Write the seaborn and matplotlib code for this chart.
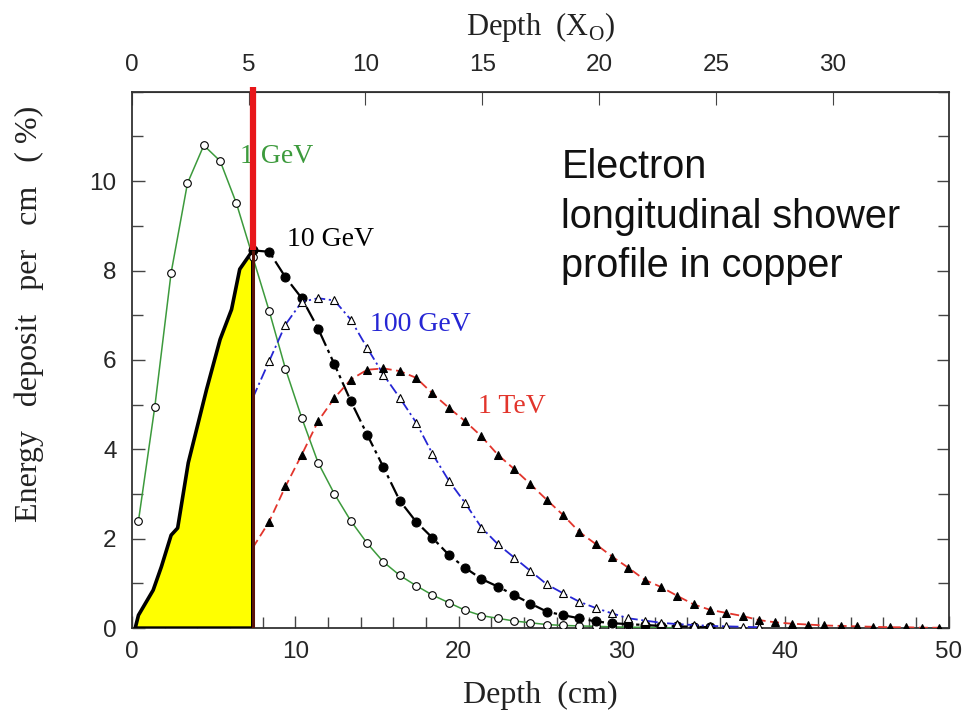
import matplotlib
matplotlib.use("Agg")
import matplotlib.pyplot as plt
import seaborn as sns

# --- Data: depth in cm, energy deposit per cm in % ---
X0_CU_CM = 1.43        # radiation length of copper (top axis)
CUT_DEPTH_CM = 7.4     # red marker line (~5 X0)

DEPTH_CM = [0.4, 1.4, 2.4, 3.4, 4.4, 5.4, 6.4, 7.4, 8.4, 9.4,
            10.4, 11.4, 12.4, 13.4, 14.4, 15.4, 16.4, 17.4, 18.4, 19.4,
            20.4, 21.4, 22.4, 23.4, 24.4, 25.4, 26.4, 27.4, 28.4, 29.4,
            30.4, 31.4, 32.4, 33.4, 34.4, 35.4, 36.4, 37.4, 38.4, 39.4,
            40.4, 41.4, 42.4, 43.4, 44.4, 45.4, 46.4, 47.4, 48.4, 49.4]

# 1 GeV, from 0.4 cm
GEV1_EDEP = [2.4, 4.95, 7.95, 9.95, 10.8, 10.45, 9.5, 8.3, 7.1, 5.8,
             4.7, 3.7, 3.0, 2.4, 1.9, 1.48, 1.18, 0.95, 0.74, 0.57,
             0.4, 0.28, 0.22, 0.16, 0.12, 0.08, 0.06, 0.05, 0.04, 0.03,
             0.02, 0.02, 0.01, 0.01]
# 10 GeV, from 7.4 cm (rising part is the yellow outline below)
GEV10_EDEP = [8.45, 8.42, 7.85, 7.38, 6.7, 5.9, 5.08, 4.33, 3.6, 2.85,
              2.38, 2.02, 1.64, 1.35, 1.1, 0.93, 0.74, 0.55, 0.37, 0.29,
              0.22, 0.15, 0.11, 0.09, 0.07, 0.05, 0.04, 0.03, 0.02]
# 100 GeV, from 7.4 cm
GEV100_EDEP = [5.15, 5.97, 6.79, 7.3, 7.38, 7.33, 6.9, 6.27, 5.67, 5.15,
               4.6, 3.9, 3.3, 2.8, 2.25, 1.88, 1.58, 1.28, 0.98, 0.78,
               0.59, 0.45, 0.33, 0.22, 0.17, 0.12, 0.09, 0.07, 0.05, 0.04,
               0.03, 0.02]
# 1 TeV, from 7.4 cm
TEV1_EDEP = [1.8, 2.38, 3.17, 3.88, 4.63, 5.15, 5.56, 5.78, 5.81, 5.75,
             5.6, 5.25, 4.93, 4.63, 4.29, 3.88, 3.56, 3.22, 2.87, 2.53,
             2.15, 1.88, 1.6, 1.35, 1.08, 0.92, 0.72, 0.53, 0.41, 0.34,
             0.27, 0.18, 0.13, 0.1, 0.08, 0.06, 0.05, 0.04, 0.03, 0.02,
             0.02, 0.01, 0.01]

# yellow area: 10 GeV shower contained in the first ~5 X0
YELLOW_DEPTH = [0.2, 0.4, 1.3, 1.8, 2.4, 2.8, 3.45, 4.57, 5.4, 6.1, 6.6, 7.4]
YELLOW_EDEP = [0.0, 0.29, 0.85, 1.37, 2.08, 2.24, 3.7, 5.34, 6.46, 7.13, 8.03, 8.45]

SERIF = ["Liberation Serif", "DejaVu Serif"]
SANS = ["Liberation Sans", "DejaVu Sans"]


def main():
    sns.set_style("ticks")
    plt.rcParams["font.family"] = SANS
    plt.rcParams["mathtext.fontset"] = "custom"
    plt.rcParams["mathtext.rm"] = "Liberation Serif"

    fig = plt.figure(figsize=(9.63, 7.22), dpi=100)
    ax = fig.add_axes([0.137, 0.130, 0.848, 0.743])

    # --- yellow contained part of the 10 GeV shower ---
    poly_x = [YELLOW_DEPTH[0]] + YELLOW_DEPTH + [YELLOW_DEPTH[-1]]
    poly_y = [0.0] + YELLOW_EDEP + [0.0]
    ax.fill(poly_x, poly_y, facecolor="#ffff00", edgecolor="black",
            linewidth=2.6, joinstyle="round", zorder=3)

    # --- the four showers ---
    sns.lineplot(x=DEPTH_CM[:len(GEV1_EDEP)], y=GEV1_EDEP, ax=ax, errorbar=None,
                 color="#3c9a3c", lw=1.1, ls="-", marker="o", ms=5.5,
                 mfc="white", mec="black", mew=0.8, zorder=4)
    sns.lineplot(x=DEPTH_CM[7:7 + len(GEV10_EDEP)], y=GEV10_EDEP, ax=ax, errorbar=None,
                 color="black", lw=1.6, ls=(0, (7, 2, 1.5, 2)), marker="o", ms=6.5,
                 mfc="black", mec="black", zorder=4)
    sns.lineplot(x=DEPTH_CM[7:7 + len(GEV100_EDEP)], y=GEV100_EDEP, ax=ax, errorbar=None,
                 color="#2626d4", lw=1.3, ls=(0, (6, 2, 1.2, 2)), marker="^", ms=5.5,
                 mfc="white", mec="black", mew=0.8, markevery=slice(1, None), zorder=4)
    sns.lineplot(x=DEPTH_CM[7:7 + len(TEV1_EDEP)], y=TEV1_EDEP, ax=ax, errorbar=None,
                 color="#e2352c", lw=1.3, ls=(0, (5, 2.5)), marker="^", ms=5.5,
                 mfc="black", mec="black", markevery=slice(1, None), zorder=4)

    # --- red line at ~5 X0 ---
    top_yellow = YELLOW_EDEP[-1]
    ax.vlines(CUT_DEPTH_CM, 0, top_yellow, color="#5a140a", lw=2.2, zorder=5)
    ax.vlines(CUT_DEPTH_CM, top_yellow, 12.1, color="#e8161a", lw=4.5,
              zorder=6, clip_on=False)

    # --- curve labels ---
    lab_kw = dict(fontsize=20, family=SERIF, va="center", ha="left", zorder=5)
    ax.text(6.6, 10.55, "1 GeV", color="#3c9a3c", **lab_kw)
    ax.text(9.5, 8.7, "10 GeV", color="black", **lab_kw)
    ax.text(14.6, 6.8, "100 GeV", color="#2626d4", **lab_kw)
    ax.text(21.2, 4.95, "1 TeV", color="#e2352c", **lab_kw)

    ax.text(26.3, 9.2, "Electron\nlongitudinal shower\nprofile in copper",
            fontsize=28.5, family=SANS, va="center", ha="left", linespacing=1.38,
            color="#111111")

    # --- axes ---
    ax.set_xlim(0, 50)
    ax.set_ylim(0, 12)
    ax.set_xticks([0, 10, 20, 30, 40, 50])
    ax.set_xticks(list(range(0, 51, 2)), minor=True)
    ax.set_yticks([0, 2, 4, 6, 8, 10])
    ax.set_yticks(list(range(0, 13)), minor=True)
    ax.tick_params(axis="both", which="both", direction="in", labelsize=17.5,
                   color="#444444", width=1.0)
    ax.tick_params(axis="both", which="major", length=9)
    ax.tick_params(axis="both", which="minor", length=8)
    ax.tick_params(axis="x", pad=9)
    ax.tick_params(axis="y", pad=11, right=True, which="both")
    for sp in ax.spines.values():
        sp.set_visible(True)
        sp.set_color("#333333")
        sp.set_linewidth(1.3)

    ax.set_xlabel("Depth  (cm)", family=SERIF, fontsize=23, color="#222222")
    ax.xaxis.set_label_coords(0.5, -0.098)
    ax.set_ylabel("Energy   deposit   per   cm   ( %)", family=SERIF, fontsize=23,
                  color="#222222")
    ax.yaxis.set_label_coords(-0.108, 0.585)

    top = ax.secondary_xaxis("top", functions=(lambda d: d / X0_CU_CM,
                                               lambda t: t * X0_CU_CM))
    top.set_xticks([0, 5, 10, 15, 20, 25, 30])
    top.tick_params(direction="in", length=9, labelsize=17.5, pad=11,
                    color="#444444")
    top.set_xlabel("Depth  (X$_{\\mathrm{O}}$)", family=SERIF, fontsize=22,
                   color="#222222", labelpad=14)

    fig.savefig("out.png", dpi=100)


if __name__ == "__main__":
    main()
